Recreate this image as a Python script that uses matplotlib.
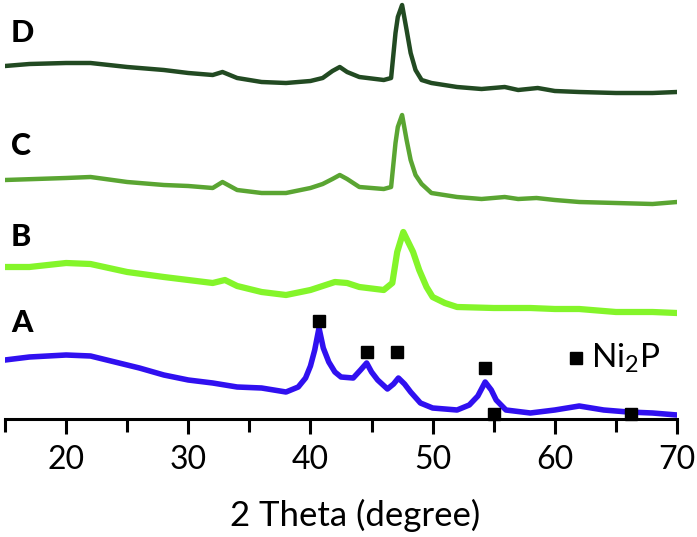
#!/bin/py
#
# stacked XRD patterns A-D with Ni2P reflections
#
import numpy as np
import matplotlib
matplotlib.use('Agg')
import matplotlib.pyplot as plt

plt.rcParams['font.family'] = ['Lato', 'DejaVu Sans']
plt.rcParams['mathtext.default'] = 'regular'

# 2 theta (degree) / stacked intensity (a.u.)
theta_d = [15, 17, 20, 22, 25, 28, 30, 32, 32.8, 34, 36, 38, 40, 41, 41.8, 42.4, 43, 44, 46,
           46.6, 46.96, 47.15, 47.5, 47.87, 48.2, 48.6, 49.1, 49.9, 52, 54, 55.9, 57, 58.6,
           60, 62, 65, 68, 70]
int_d = [356, 358, 359, 359, 355, 352, 349, 347, 350, 344, 340, 339, 341, 344, 351, 355, 350, 345,
         342, 344, 389, 405, 417, 392, 369, 352, 342, 339, 335, 333, 335, 332, 334,
         331, 330, 329, 329, 330]

theta_c = [15, 20, 22, 25, 28, 30, 32, 32.8, 34, 36, 38, 40, 41, 41.8, 42.4, 43, 44, 46,
           46.6, 46.96, 47.15, 47.5, 47.87, 48.2, 48.6, 49.1, 49.9, 52, 54, 55.9, 57, 58.5,
           60, 62, 65, 68, 70]
int_c = [242, 244, 245, 240, 237, 236, 234, 240, 232, 229, 229, 234, 238, 243, 247, 243, 235,
         233, 235, 279, 295, 307, 282, 262, 247, 238, 229, 225, 223, 225, 223, 224,
         222, 220, 219, 218, 220]

theta_b = [15, 17, 20, 22, 25, 28, 30, 32, 33, 34, 36, 38, 40, 42, 43, 44, 46, 46.7,
           47.1, 47.6, 48.0, 48.4, 48.9, 49.5, 50, 51, 52, 55, 58, 60, 62, 65, 68, 70]
int_b = [155, 155, 159, 158, 150, 145, 142, 139, 142, 136, 130, 127, 132, 140, 139, 135, 132, 139,
         170, 190, 180, 170, 152, 135, 125, 119, 115, 114, 114, 113, 113, 110, 110, 109]

theta_a = [15, 17, 20, 22, 24, 26, 28, 30, 32, 34, 36, 38, 39, 39.6, 40.0, 40.35, 40.7, 41.05,
           41.5, 42.0, 42.5, 43.5, 44.1, 44.6, 45.0, 45.5, 46.3, 46.8, 47.2, 47.7, 48.2, 49,
           50, 52, 53, 53.7, 54.3, 54.8, 55.2, 56, 58, 60, 62, 64, 66, 68, 70]
int_a = [62, 65, 67, 66, 60, 54, 47, 42, 39, 35, 34, 30, 35, 44, 56, 72, 94, 74,
         60, 50, 45, 44, 52, 59, 50, 42, 33, 38, 44, 38, 30, 19,
         14, 12, 17, 26, 40, 32, 22, 12, 9, 12, 16, 12, 10, 9, 7]

# Ni2P reflection markers
ni2p_theta = [40.7, 44.6, 47.1, 54.3, 55.0, 66.2]
ni2p_int = [101, 70, 70, 54, 8, 8]

labels = ['A', 'B', 'C', 'D']
label_int = [99, 185, 276, 389]


def main():
    fig = plt.figure(figsize=(6.97, 5.37), dpi=100)
    ax = fig.add_axes([5/697, 118/537, 672/697, 419/537])

    ax.plot(theta_a, int_a, color='#3010f0', linewidth=4.0, solid_joinstyle='round')
    ax.plot(theta_b, int_b, color='#84f52a', linewidth=4.5, solid_joinstyle='round')
    ax.plot(theta_c, int_c, color='#5aa532', linewidth=3.2, solid_joinstyle='round')
    ax.plot(theta_d, int_d, color='#224a22', linewidth=3.2, solid_joinstyle='round')

    ax.plot(ni2p_theta, ni2p_int, 's', color='black', markersize=8, linestyle='none',
            clip_on=False)

    # legend
    ax.plot([61.7], [64], 's', color='black', markersize=8)
    ax.text(63.0, 64, 'Ni$_2$P', fontsize=24, va='center', ha='left')

    for lab, y in zip(labels, label_int):
        ax.text(15.5, y, lab, fontsize=22, fontweight='black', va='center', ha='left')

    ax.set_xlim(15, 70)
    ax.set_ylim(3, 422)
    ax.set_xticks(np.arange(20, 71, 10))
    ax.set_xticks(np.arange(15, 71, 10), minor=True)
    ax.tick_params(axis='x', which='major', direction='out', length=11, width=2.2,
                   labelsize=23, pad=8)
    ax.tick_params(axis='x', which='minor', direction='out', length=9, width=2.2)
    ax.set_yticks([])
    for s in ['left', 'right', 'top']:
        ax.spines[s].set_visible(False)
    ax.spines['bottom'].set_linewidth(2.2)

    ax.set_xlabel('2 Theta (degree)', fontsize=25)
    ax.xaxis.label.set_va('center')
    ax.xaxis.set_label_coords(350/672, -96/419)

    plt.savefig('out.png', dpi=100)


main()
